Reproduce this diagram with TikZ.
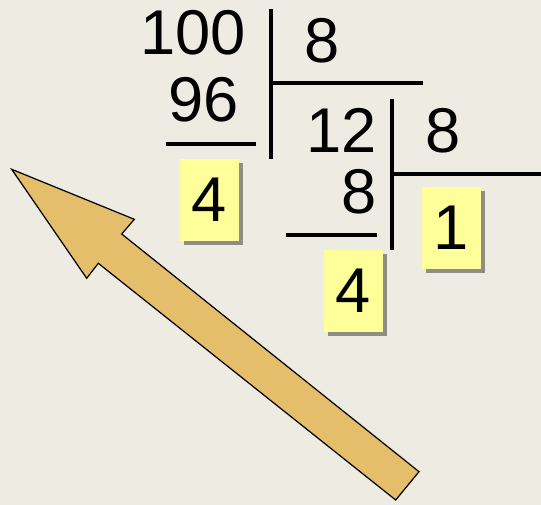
\documentclass[tikz,border=0pt]{standalone}
\usepackage{fontspec}
\setmainfont{Liberation Sans}
\usetikzlibrary{shadows}
\definecolor{bgbeige}{RGB}{238,235,227}
\definecolor{boxyellow}{RGB}{255,255,153}
\definecolor{arrowgold}{RGB}{228,190,106}

\begin{document}
\begin{tikzpicture}[every node/.style={font=\fontsize{36}{40}\selectfont,inner sep=0pt},
  bar/.style={line width=2.1pt},
  digitbox/.style={fill=boxyellow,minimum width=1.18cm,minimum height=1.634cm,
    drop shadow={shadow xshift=0.08cm,shadow yshift=-0.08cm,fill=black,opacity=0.4}}]
\fill[bgbeige] (0,0) rectangle (10.82,-10.10);
\useasboundingbox (0,0) rectangle (10.82,-10.10);
% arrow
\coordinate (a0) at (0.2340,-3.3860);
\coordinate (a1) at (2.6860,-4.3860);
\coordinate (a2) at (2.4340,-4.6800);
\coordinate (a3) at (8.3800,-9.4340);
\coordinate (a4) at (7.9140,-10.0000);
\coordinate (a5) at (1.9660,-5.2660);
\coordinate (a6) at (1.7340,-5.5660);
\draw[line width=.7pt,fill=arrowgold] (a0)--(a1)--(a2)--(a3)--(a4)--(a5)--(a6)--cycle;
% division lines
\draw[bar] (5.4260,-0.1800)--(5.4260,-3.1860);
\draw[bar] (5.4260,-1.6660)--(8.4540,-1.6660);
\draw[bar] (3.3140,-2.8860)--(5.1200,-2.8860);
\draw[bar] (7.8340,-1.9860)--(7.8340,-5.0000);
\draw[bar] (7.8340,-3.4800)--(10.8200,-3.4800);
\draw[bar] (5.7200,-4.7000)--(7.5400,-4.7000);
% numbers
\node (n100) at (3.8600,-0.6500) {100};
\node (d1) at (6.4400,-0.8200) {8};
\node (n96) at (4.0800,-2.0000) {96};
\node (n12) at (6.8340,-2.6160) {12};
\node (s8) at (7.1900,-3.8400) {8};
\node (d2) at (8.8600,-2.6200) {8};
\node[digitbox] (r1) at (4.1900,-3.9980) {4};
\node[digitbox] (q2) at (9.0270,-4.5630) {1};
\node[digitbox] (r2) at (7.0700,-5.8170) {4};
\end{tikzpicture}
\end{document}
